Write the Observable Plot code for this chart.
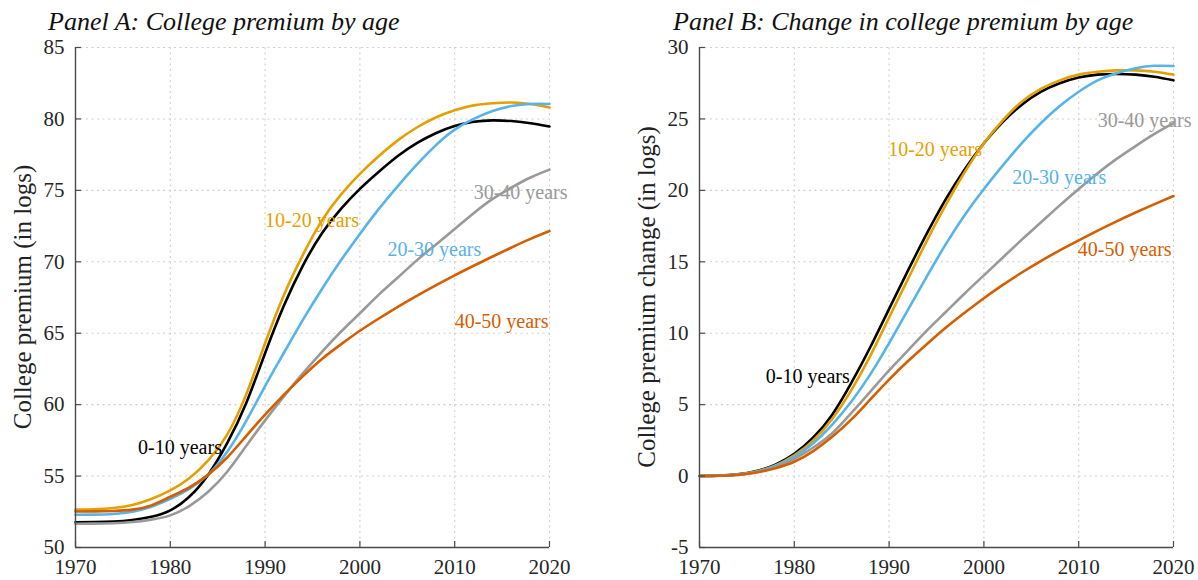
<!DOCTYPE html>
<html>
<head>
<meta charset="utf-8">
<script src="https://cdn.jsdelivr.net/npm/d3@7"></script>
<script src="https://cdn.jsdelivr.net/npm/@observablehq/plot@0.6"></script>
<style>
  body { margin: 0; background: #fff; }
  #chart { position: relative; width: 1198px; height: 580px; font-family: "Liberation Serif", serif; color: #111; }
  .panel { position: absolute; top: 0; }
  .title { position: absolute; top: 9px; font-style: italic; font-size: 26px; line-height: 26px; white-space: nowrap; color: #111; }
  .ylab { position: absolute; font-size: 25px; line-height: 25px; white-space: nowrap; color: #222;
          transform: translate(-50%, -50%) rotate(-90deg); }
</style>
</head>
<body>
<div id="chart">
  <div class="title" style="left:48px">Panel A: College premium by age</div>
  <div class="title" style="left:673px">Panel B: Change in college premium by age</div>
  <div class="ylab" style="left:22px; top:297px">College premium (in logs)</div>
  <div class="ylab" style="left:646px; top:297px">College premium change (in logs)</div>
</div>
<script>
// Experience groups and their line colours
const groups = ["0-10 years", "10-20 years", "20-30 years", "30-40 years", "40-50 years"];
const colors = ["#000000", "#E69F00", "#56B4E9", "#999999", "#D55E00"];

const years = [1970, 1972, 1974, 1976, 1978, 1980, 1982, 1984, 1986, 1988, 1990, 1992, 1994,
               1996, 1998, 2000, 2002, 2004, 2006, 2008, 2010, 2012, 2014, 2016, 2018, 2020];

// Panel A: college premium level (log points)
const levelExp0_10  = [51.77, 51.78, 51.82, 51.93, 52.15, 52.6, 53.55, 55.1, 57.3, 60.1, 63.6, 66.95, 69.75,
                       72.0, 73.7, 75.1, 76.3, 77.4, 78.3, 79.0, 79.5, 79.8, 79.9, 79.85, 79.7, 79.47];
const levelExp10_20 = [52.66, 52.68, 52.76, 52.98, 53.4, 54.0, 54.85, 56.1, 57.9, 60.7, 64.3, 67.7, 70.5,
                       72.9, 74.7, 76.15, 77.4, 78.5, 79.4, 80.1, 80.6, 80.95, 81.1, 81.15, 81.05, 80.8];
const levelExp20_30 = [52.29, 52.3, 52.35, 52.5, 52.85, 53.4, 54.1, 55.1, 56.7, 58.85, 61.3, 63.65, 65.95,
                       68.1, 70.1, 71.95, 73.7, 75.3, 76.8, 78.15, 79.25, 80.0, 80.55, 80.9, 81.05, 81.05];
const levelExp30_40 = [51.66, 51.67, 51.7, 51.78, 51.95, 52.25, 52.9, 53.9, 55.3, 57.1, 58.9, 60.6, 62.2,
                       63.7, 65.1, 66.4, 67.7, 68.9, 70.1, 71.2, 72.3, 73.4, 74.4, 75.2, 75.9, 76.45];
const levelExp40_50 = [52.52, 52.53, 52.56, 52.65, 52.95, 53.55, 54.2, 55.1, 56.3, 57.8, 59.3, 60.7, 62.0,
                       63.2, 64.22, 65.17, 66.03, 66.85, 67.62, 68.35, 69.05, 69.72, 70.37, 71.0, 71.6, 72.15];

// Panel B: change in college premium since 1970 (log points)
const changeExp0_10  = [0, 0.03, 0.12, 0.35, 0.8, 1.55, 2.7, 4.3, 6.5, 9.0, 11.7, 14.4, 17.0,
                        19.4, 21.5, 23.3, 24.8, 26.0, 26.9, 27.5, 27.9, 28.1, 28.15, 28.1, 27.95, 27.7];
const changeExp10_20 = [0, 0.03, 0.11, 0.32, 0.75, 1.45, 2.5, 4.0, 6.0, 8.4, 11.1, 13.8, 16.5,
                        19.0, 21.3, 23.3, 24.9, 26.2, 27.1, 27.7, 28.1, 28.3, 28.4, 28.4, 28.3, 28.1];
const changeExp20_30 = [0, 0.02, 0.1, 0.3, 0.7, 1.35, 2.3, 3.6, 5.2, 7.1, 9.3, 11.65, 14.0,
                        16.25, 18.3, 20.1, 21.75, 23.3, 24.7, 25.9, 26.9, 27.7, 28.2, 28.55, 28.72, 28.7];
const changeExp30_40 = [0, 0.02, 0.09, 0.27, 0.62, 1.2, 2.0, 3.0, 4.4, 5.9, 7.4, 8.8, 10.2,
                        11.5, 12.8, 14.05, 15.3, 16.55, 17.75, 18.95, 20.1, 21.2, 22.2, 23.1, 23.95, 24.7];
const changeExp40_50 = [0, 0.02, 0.08, 0.25, 0.55, 1.0, 1.75, 2.75, 3.95, 5.35, 6.75, 8.05, 9.25,
                        10.4, 11.45, 12.45, 13.38, 14.25, 15.05, 15.8, 16.5, 17.18, 17.83, 18.45, 19.04, 19.6];

// Axis ticks
const xTicks = [1970, 1980, 1990, 2000, 2010, 2020];
const yTicksA = [50, 55, 60, 65, 70, 75, 80, 85];
const yTicksB = [-5, 0, 5, 10, 15, 20, 25, 30];

// In-chart series labels (text start, vertical centre, data units)
const labelsA = [
  {group: "0-10 years",  year: 1976.6, value: 57.0},
  {group: "10-20 years", year: 1990.0, value: 72.9},
  {group: "20-30 years", year: 2002.9, value: 70.86},
  {group: "30-40 years", year: 2012.0, value: 74.85},
  {group: "40-50 years", year: 2010.0, value: 65.8}
];
const labelsB = [
  {group: "0-10 years",  year: 1977.0, value: 6.97},
  {group: "10-20 years", year: 1989.9, value: 22.86},
  {group: "20-30 years", year: 2003.0, value: 20.9},
  {group: "30-40 years", year: 2012.0, value: 24.9},
  {group: "40-50 years", year: 2009.9, value: 15.86}
];

function toRows(seriesList) {
  const rows = [];
  seriesList.forEach((vals, i) => {
    vals.forEach((v, j) => rows.push({group: groups[i], year: years[j], value: v}));
  });
  return rows;
}

const rowsA = toRows([levelExp0_10, levelExp10_20, levelExp20_30, levelExp30_40, levelExp40_50]);
const rowsB = toRows([changeExp0_10, changeExp10_20, changeExp20_30, changeExp30_40, changeExp40_50]);

function panel({rows, labels, yDomain, yTicks, width, marginLeft, marginRight}) {
  const height = 580, marginTop = 47, marginBottom = 33;
  const innerW = width - marginLeft - marginRight;
  const innerH = height - marginTop - marginBottom;
  const axisColor = "#4a4a4a";
  const gridStyle = {stroke: "#cfcfcf", strokeOpacity: 1, strokeWidth: 1.1, strokeDasharray: "2,3.5"};
  return Plot.plot({
    width, height, marginTop, marginBottom, marginLeft, marginRight,
    style: {fontFamily: "'Liberation Serif', serif", fontSize: "21px", color: "#262626", background: "transparent", overflow: "visible"},
    x: {domain: [1970, 2020]},
    y: {domain: yDomain},
    color: {domain: groups, range: colors},
    marks: [
      Plot.gridX(xTicks, gridStyle),
      Plot.gridY(yTicks, gridStyle),
      Plot.lineY(rows, {x: "year", y: "value", z: "group", stroke: "group", strokeWidth: 2.6, curve: "natural"}),
      Plot.text(labels, {x: "year", y: "value", text: "group", fill: "group", textAnchor: "start", fontSize: 20}),
      Plot.axisX({ticks: xTicks, tickSize: 0, tickPadding: 12, tickFormat: d => String(d), label: null, fontSize: 21, fill: "#262626"}),
      Plot.axisY({ticks: yTicks, tickSize: 0, tickPadding: 11, tickFormat: d => String(d), label: null, fontSize: 21, fill: "#262626"}),
      Plot.tickX(xTicks, {x: d => d, insetTop: innerH - 6, stroke: axisColor, strokeWidth: 1.2}),
      Plot.tickY(yTicks, {y: d => d, insetRight: innerW - 6, stroke: axisColor, strokeWidth: 1.2}),
      Plot.ruleX([1970], {stroke: axisColor, strokeWidth: 1.4}),
      Plot.ruleY([yDomain[0]], {stroke: axisColor, strokeWidth: 1.4})
    ]
  });
}

const chart = document.getElementById("chart");

const svgA = panel({rows: rowsA, labels: labelsA, yDomain: [50, 85], yTicks: yTicksA, width: 600, marginLeft: 75, marginRight: 51});
svgA.classList.add("panel");
svgA.style.left = "0px";
chart.prepend(svgA);

const svgB = panel({rows: rowsB, labels: labelsB, yDomain: [-5, 30], yTicks: yTicksB, width: 598, marginLeft: 99, marginRight: 25});
svgB.classList.add("panel");
svgB.style.left = "600px";
chart.prepend(svgB);
</script>
</body>
</html>
